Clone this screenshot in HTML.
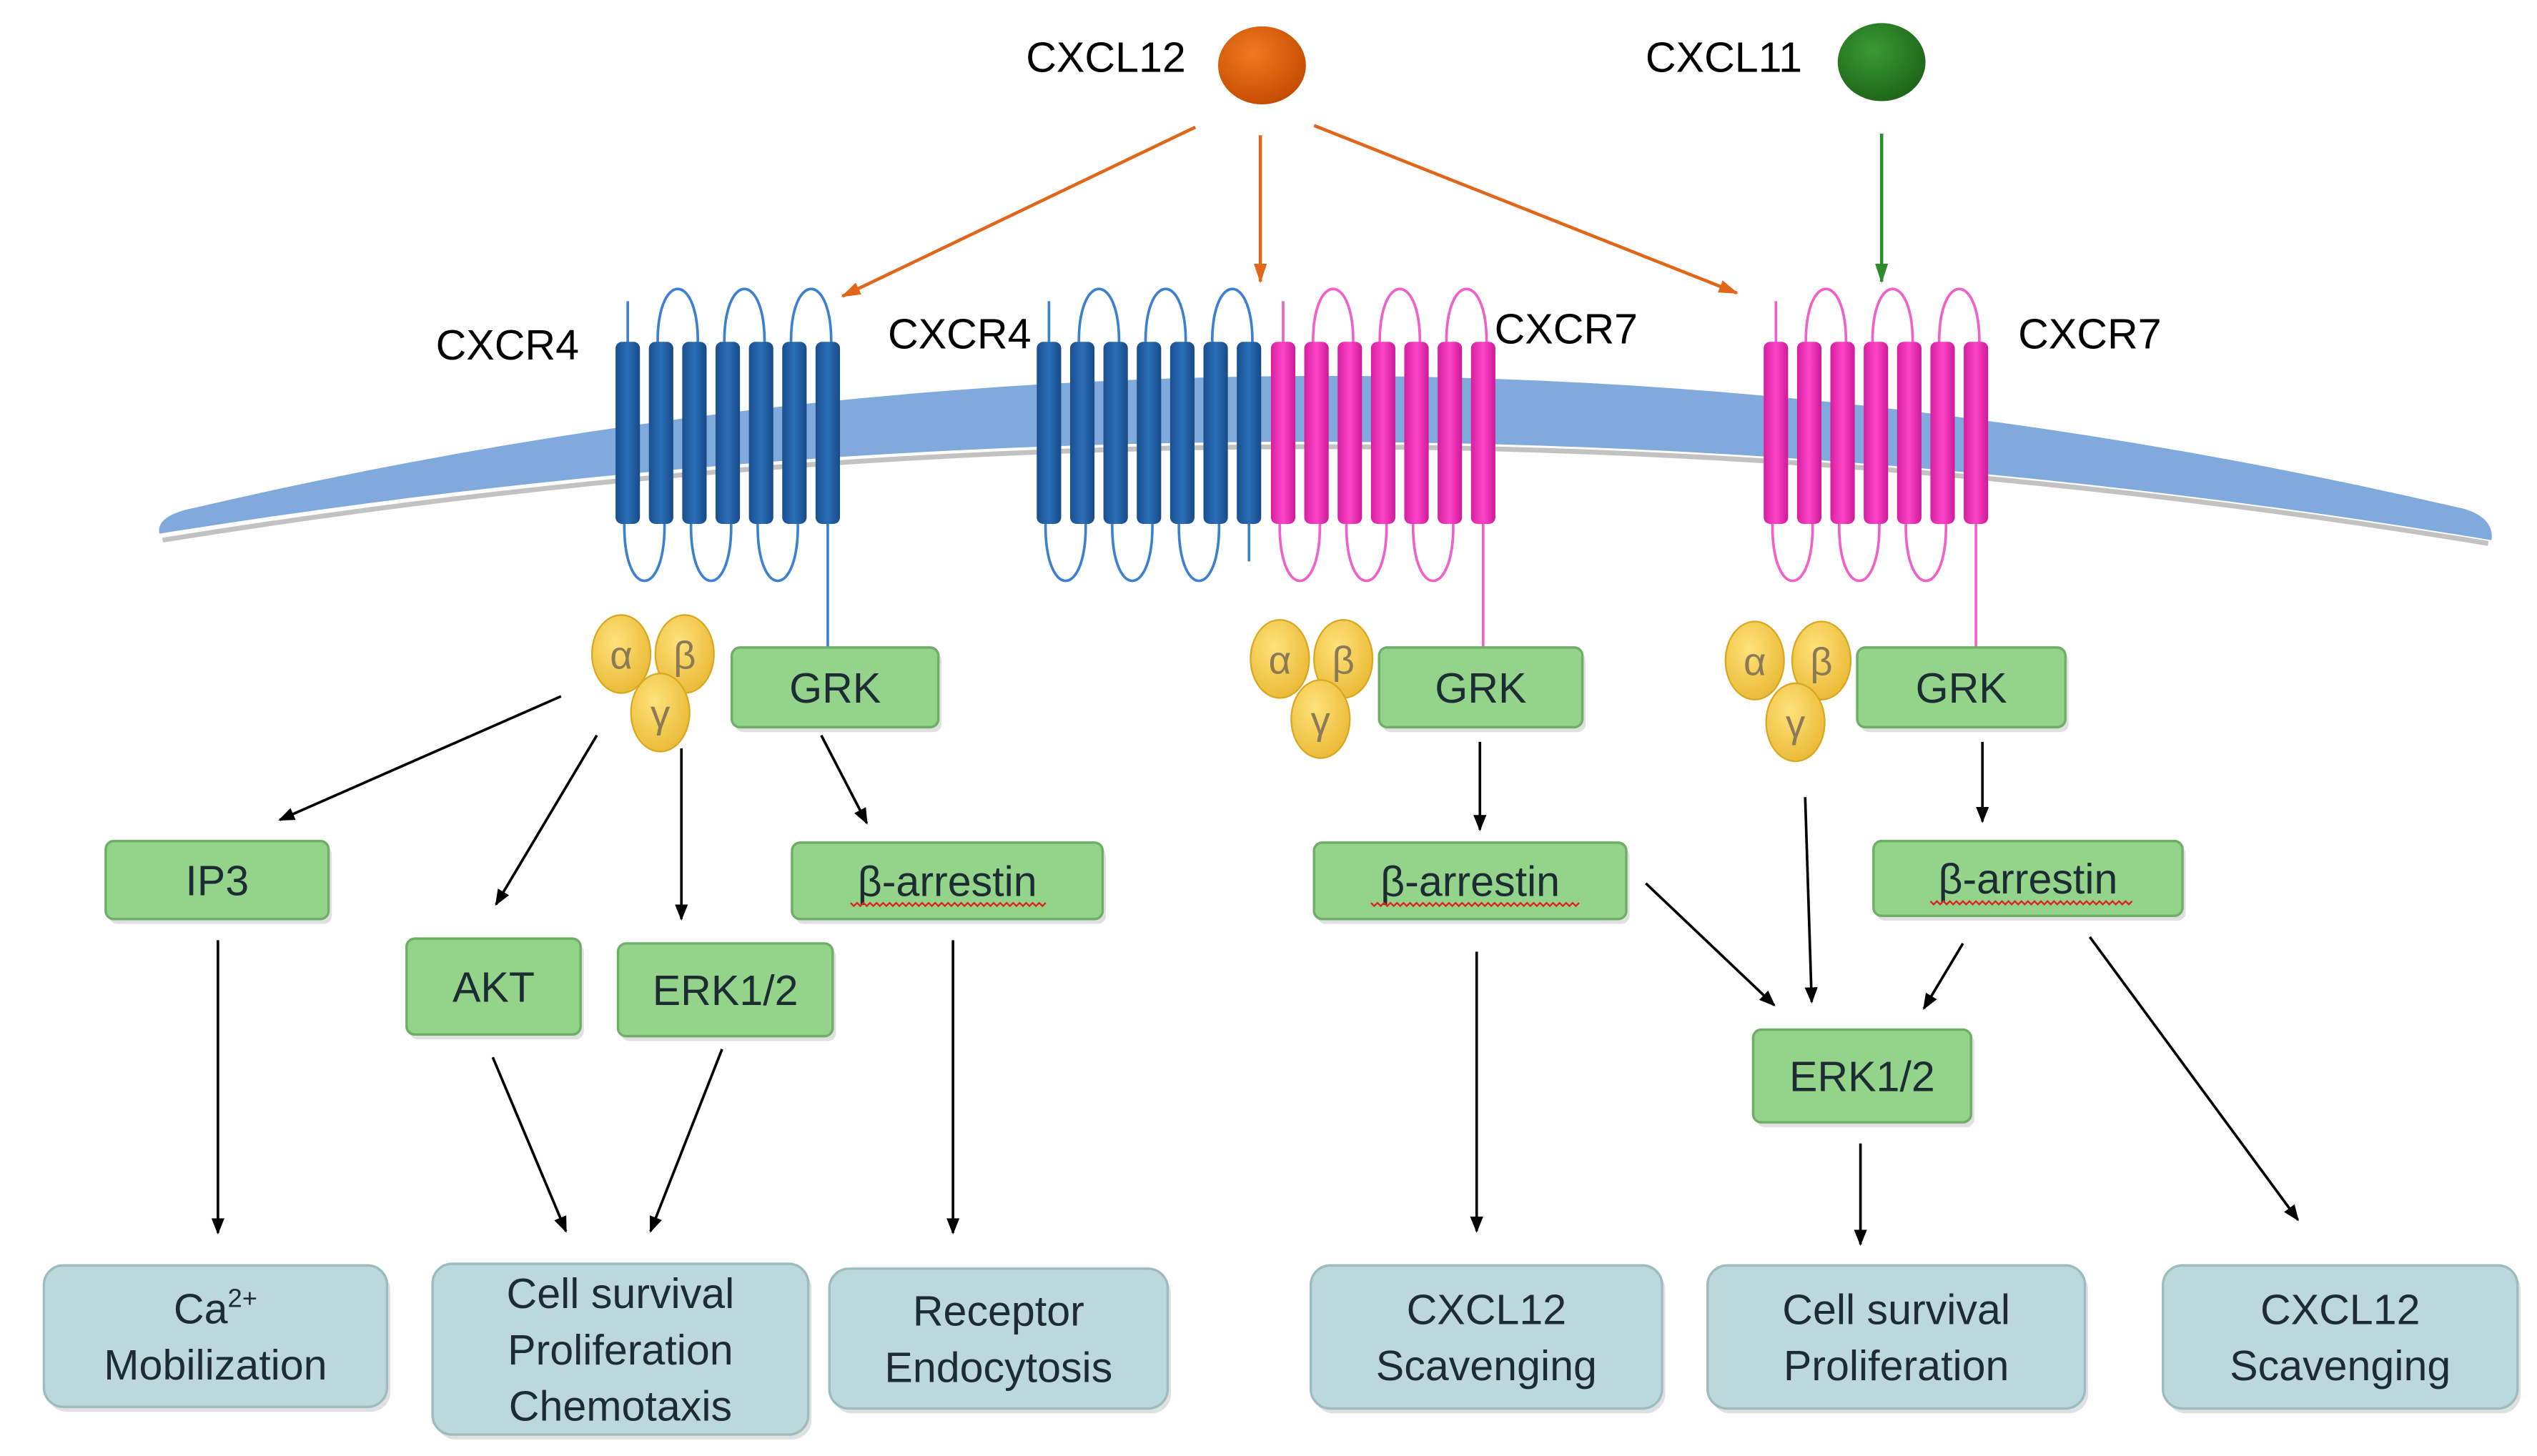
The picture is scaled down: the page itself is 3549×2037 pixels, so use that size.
<!DOCTYPE html>
<html><head><meta charset="utf-8"><style>
html,body{margin:0;padding:0;background:#fff;width:3549px;height:2037px;overflow:hidden;}
svg{display:block;}
text{font-family:"Liberation Sans",sans-serif;}
</style></head><body>
<svg id="s" width="3549" height="2037" viewBox="0 0 1560 895" xmlns="http://www.w3.org/2000/svg">
<defs>
<marker id="ab" markerWidth="10" markerHeight="10" refX="9" refY="5" orient="auto" markerUnits="userSpaceOnUse"><path d="M0,1 L10,5 L0,9 z" fill="#000"/></marker>
<marker id="ao" markerWidth="12" markerHeight="10" refX="11" refY="5" orient="auto" markerUnits="userSpaceOnUse"><path d="M0,1 L12,5 L0,9 z" fill="#e0661a"/></marker>
<marker id="ag" markerWidth="12" markerHeight="10" refX="11" refY="5" orient="auto" markerUnits="userSpaceOnUse"><path d="M0,1 L12,5 L0,9 z" fill="#2e8b2e"/></marker>
<linearGradient id="hb" x1="0" x2="1"><stop offset="0" stop-color="#1a4f8f"/><stop offset="0.5" stop-color="#2a6fb8"/><stop offset="1" stop-color="#174a86"/></linearGradient>
<linearGradient id="hp" x1="0" x2="1"><stop offset="0" stop-color="#d51fa0"/><stop offset="0.5" stop-color="#ff44c8"/><stop offset="1" stop-color="#cc1a98"/></linearGradient>
<radialGradient id="gy" cx="0.4" cy="0.35" r="0.7"><stop offset="0" stop-color="#ffe27a"/><stop offset="1" stop-color="#e9b935"/></radialGradient>
<radialGradient id="lo" cx="0.4" cy="0.35" r="0.7"><stop offset="0" stop-color="#f07a20"/><stop offset="1" stop-color="#c44a00"/></radialGradient>
<radialGradient id="lg" cx="0.4" cy="0.35" r="0.7"><stop offset="0" stop-color="#3a9a34"/><stop offset="1" stop-color="#1d6318"/></radialGradient>
</defs>
<path d="M100,332 Q815,216 1530,334" fill="none" stroke="#9a9a9a" stroke-width="3" opacity="0.6"/>
<path d="M98,328 C96,318 110,314 120,312 Q815,150 1512,312 C1522,314 1534,320 1532,332 Q815,213 98,328 z" fill="#80aadc"/>
<g id="rec"></g>

<text x="312" y="221" font-size="26" text-anchor="middle">CXCR4</text>
<text x="590" y="214" font-size="26" text-anchor="middle">CXCR4</text>
<text x="963" y="211" font-size="26" text-anchor="middle">CXCR7</text>
<text x="1285" y="214" font-size="26" text-anchor="middle">CXCR7</text>
<text x="680" y="44" font-size="26" text-anchor="middle">CXCL12</text>
<text x="1060" y="44" font-size="26" text-anchor="middle">CXCL11</text>
<ellipse cx="776" cy="40" rx="27" ry="24" fill="url(#lo)"/>
<ellipse cx="1157" cy="38" rx="27" ry="24" fill="url(#lg)"/>

<g stroke-width="2" fill="none">
<line x1="735" y1="78" x2="518" y2="182" stroke="#e0661a" marker-end="url(#ao)"/>
<line x1="775" y1="83" x2="775" y2="173" stroke="#e0661a" marker-end="url(#ao)"/>
<line x1="808" y1="77" x2="1068" y2="180" stroke="#e0661a" marker-end="url(#ao)"/>
<line x1="1157" y1="82" x2="1157" y2="173" stroke="#2e8b2e" marker-end="url(#ag)"/>
</g>
<g stroke="#000" stroke-width="1.6" marker-end="url(#ab)">
<line x1="345" y1="428" x2="172" y2="504"/>
<line x1="367" y1="452" x2="305" y2="556"/>
<line x1="419" y1="460" x2="419" y2="565"/>
<line x1="505" y1="452" x2="533" y2="506"/>
<line x1="134" y1="578" x2="134" y2="758"/>
<line x1="303" y1="650" x2="348" y2="757"/>
<line x1="444" y1="645" x2="400" y2="757"/>
<line x1="586" y1="578" x2="586" y2="758"/>
<line x1="910" y1="456" x2="910" y2="510"/>
<line x1="908" y1="585" x2="908" y2="757"/>
<line x1="1012" y1="543" x2="1091" y2="618"/>
<line x1="1110" y1="490" x2="1114" y2="616"/>
<line x1="1207" y1="580" x2="1183" y2="620"/>
<line x1="1219" y1="456" x2="1219" y2="505"/>
<line x1="1285" y1="576" x2="1413" y2="750"/>
<line x1="1144" y1="703" x2="1144" y2="765"/>
</g>
<g id="boxes"></g>
<g id="gp"></g>
</svg>
<script>
var NS="http://www.w3.org/2000/svg";
function el(p,t,a,txt){var e=document.createElementNS(NS,t);for(var k in a)e.setAttribute(k,a[k]);if(txt!=null)e.textContent=txt;p.appendChild(e);return e;}
var rec=document.getElementById('rec');
function receptor(x0,blue){
 var col=blue?"#3d7fd0":"#f060c8",fill=blue?"url(#hb)":"url(#hp)";
 var xs=[];for(var i=0;i<7;i++)xs.push(x0+i*20.5+7);
 [[1,2],[3,4],[5,6]].forEach(function(p){var a=xs[p[0]],b=xs[p[1]];el(rec,'path',{d:'M'+(a-2)+',215 C'+(a-4)+',165 '+(b+4)+',165 '+(b+2)+',215',fill:'none',stroke:col,'stroke-width':1.6});});
 [[0,1],[2,3],[4,5]].forEach(function(p){var a=xs[p[0]],b=xs[p[1]];el(rec,'path',{d:'M'+(a-2)+',318 C'+(a-4)+',370 '+(b+4)+',370 '+(b+2)+',318',fill:'none',stroke:col,'stroke-width':1.6});});
 el(rec,'line',{x1:xs[0],y1:185,x2:xs[0],y2:215,stroke:col,'stroke-width':1.6});
 for(var i=0;i<7;i++){el(rec,'rect',{x:xs[i]-7.5,y:210,width:15,height:112,rx:4,fill:fill});}
 return xs;
}
var a=receptor(379,true);el(rec,'line',{x1:a[6],y1:322,x2:a[6],y2:398,stroke:"#3d7fd0",'stroke-width':1.6});
var b=receptor(638,true);el(rec,'line',{x1:b[6],y1:322,x2:b[6],y2:345,stroke:"#3d7fd0",'stroke-width':1.6});
var c=receptor(782,false);el(rec,'line',{x1:c[6],y1:322,x2:c[6],y2:398,stroke:"#f060c8",'stroke-width':1.6});
var d=receptor(1085,false);el(rec,'line',{x1:d[6],y1:322,x2:d[6],y2:398,stroke:"#f060c8",'stroke-width':1.6});
var bx=document.getElementById('boxes');
function box(x1,y1,x2,y2,lines,green,fs){
 el(bx,'rect',{x:x1+2,y:y1+3,width:x2-x1,height:y2-y1,rx:green?5:12,fill:'#000',opacity:0.12});
 el(bx,'rect',{x:x1,y:y1,width:x2-x1,height:y2-y1,rx:green?5:12,fill:green?'#93d38a':'#bcd8da',stroke:green?'#6fae66':'#9dbcc0','stroke-width':1.5});
 var n=lines.length,lh=fs*1.33,cy=(y1+y2)/2,top=cy-(n-1)*lh/2;
 lines.forEach(function(t,i){var e=el(bx,'text',{x:(x1+x2)/2,y:top+i*lh+fs*0.36,'font-size':fs,'text-anchor':'middle',fill:'#1d2c33'});e.innerHTML=t;});
}
box(450,398,577,447,['GRK'],true,26);
box(848,398,973,447,['GRK'],true,26);
box(1142,398,1270,447,['GRK'],true,26);
box(65,517,202,565,['IP3'],true,26);
box(250,577,357,636,['AKT'],true,26);
box(380,580,512,637,['ERK1/2'],true,26);
box(487,518,678,565,['β-arrestin'],true,26);
box(808,518,1000,565,['β-arrestin'],true,26);
box(1152,517,1342,563,['β-arrestin'],true,26);
box(1078,633,1212,690,['ERK1/2'],true,26);
box(27,778,238,865,['Ca<tspan font-size="16" dy="-10">2+</tspan>','Mobilization'],false,26);
box(266,777,497,882,['Cell survival','Proliferation','Chemotaxis'],false,26);
box(510,780,718,866,['Receptor','Endocytosis'],false,26);
box(806,778,1022,866,['CXCL12','Scavenging'],false,26);
box(1050,778,1282,866,['Cell survival','Proliferation'],false,26);
box(1330,778,1548,866,['CXCL12','Scavenging'],false,26);
[[555,523,643],[555,843,970],[554,1187,1308]].forEach(function(u){var y=u[0],p='M'+u[1]+','+y;for(var x=u[1];x<u[2];x+=4)p+=' L'+(x+2)+','+(y+2)+' L'+(x+4)+','+y;el(bx,'path',{d:p,fill:'none',stroke:'#e02020','stroke-width':1});});
var gp=document.getElementById('gp');
function gprot(ax,ay,bx2,by,gx,gy){
 [[ax,ay,'α'],[bx2,by,'β'],[gx,gy,'γ']].forEach(function(q){el(gp,'ellipse',{cx:q[0],cy:q[1],rx:18,ry:24,fill:'url(#gy)',stroke:'#d9a820','stroke-width':1});el(gp,'text',{x:q[0],y:q[1]+9,'font-size':24,'text-anchor':'middle',fill:'#8a7a55'},q[2]);});
}
gprot(382,402,421,402,406,438);
gprot(787,405,826,405,812,442);
gprot(1079,406,1120,406,1104,444);
</script>
</body></html>
